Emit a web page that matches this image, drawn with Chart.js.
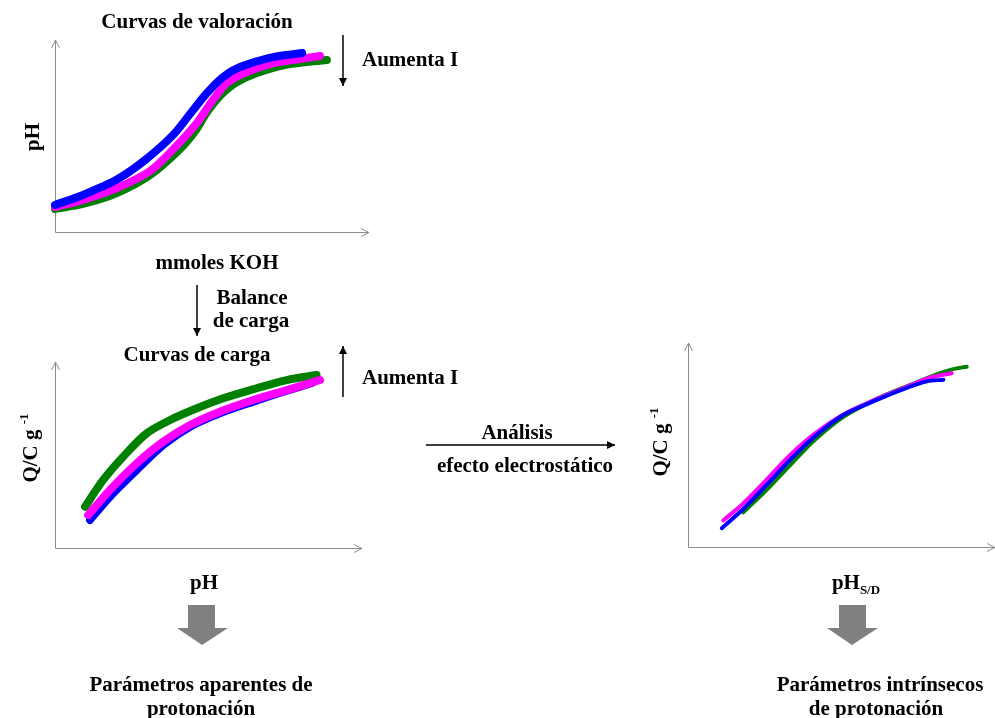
<!DOCTYPE html>
<html lang="es">
<head>
<meta charset="utf-8">
<title>Curvas de valoración y de carga</title>
<script src="https://cdn.jsdelivr.net/npm/chart.js@4.4.1/dist/chart.umd.min.js"></script>
<style>
  html, body { margin: 0; padding: 0; background: #fff; overflow: hidden; }
  #page { position: relative; width: 995px; height: 718px; overflow: hidden; background: #fff;
          font-family: "Liberation Serif", "Times New Roman", serif; font-weight: bold; color: #000; }
  canvas { position: absolute; }
  .t { position: absolute; white-space: nowrap; font-size: 21px; line-height: 21px;
       transform: translate(-50%, -50%); }
  .l { position: absolute; white-space: nowrap; font-size: 21px; line-height: 21px;
       transform: translate(0, -50%); }
  .rot { transform: translate(-50%, -50%) rotate(-90deg); }
  sub { font-size: 13px; vertical-align: -5px; line-height: 0; }
  sup { font-size: 13px; vertical-align: 9px; line-height: 0; }
  svg { position: absolute; left: 0; top: 0; }
</style>
</head>
<body>
<div id="page">
  <canvas id="cTitration" width="334" height="212" style="left:45px; top:30px;"></canvas>
  <canvas id="cCharge" width="327" height="206" style="left:45px; top:352px;"></canvas>
  <canvas id="cIntrinsic" width="327" height="224" style="left:678px; top:333px;"></canvas>

  <svg width="995" height="718" viewBox="0 0 995 718">
    <defs>
      <marker id="head" viewBox="0 0 10 10" refX="10" refY="5" markerWidth="8" markerHeight="8"
              markerUnits="userSpaceOnUse" orient="auto">
        <path d="M0,0 L10,5 L0,10 z" fill="#000"/>
      </marker>
    </defs>
    <!-- ionic strength arrows -->
    <line x1="343" y1="35" x2="343" y2="86" stroke="#000" stroke-width="1.5" marker-end="url(#head)"/>
    <line x1="343" y1="397" x2="343" y2="346" stroke="#000" stroke-width="1.5" marker-end="url(#head)"/>
    <!-- charge balance step -->
    <line x1="197" y1="285" x2="197" y2="336" stroke="#000" stroke-width="1.5" marker-end="url(#head)"/>
    <!-- electrostatic analysis step -->
    <line x1="426" y1="445" x2="615" y2="445" stroke="#000" stroke-width="1.5" marker-end="url(#head)"/>
    <!-- block arrows to the parameters -->
    <path d="M188,605 L215,605 L215,628 L228,628 L202,645 L177,628 L188,628 z" fill="#808080"/>
    <path d="M839,605 L866,605 L866,628 L878,628 L852,645 L827,628 L839,628 z" fill="#808080"/>
  </svg>

  <div class="t" style="left:197px; top:21px;">Curvas de valoración</div>
  <div class="l" style="left:362px; top:59px;">Aumenta I</div>
  <div class="t rot" style="left:32px; top:137px;">pH</div>
  <div class="t" style="left:217px; top:262px;">mmoles KOH</div>

  <div class="t" style="left:252px; top:297px;">Balance</div>
  <div class="t" style="left:251px; top:320px;">de carga</div>

  <div class="t" style="left:197px; top:354px;">Curvas de carga</div>
  <div class="l" style="left:362px; top:377px;">Aumenta I</div>
  <div class="t rot" style="left:30px; top:448px;">Q/C g <sup>-1</sup></div>
  <div class="t" style="left:204px; top:582px;">pH</div>
  <div class="t" style="left:201px; top:684px;">Parámetros aparentes de</div>
  <div class="t" style="left:201px; top:708px;">protonación</div>

  <div class="t" style="left:517px; top:432px;">Análisis</div>
  <div class="t" style="left:525px; top:465px;">efecto electrostático</div>

  <div class="t rot" style="left:660px; top:442px;">Q/C g <sup>-1</sup></div>
  <div class="t" style="left:856px; top:582px;">pH<sub>S/D</sub></div>
  <div class="t" style="left:880px; top:684px;">Parámetros intrínsecos</div>
  <div class="t" style="left:876px; top:708px;">de protonación</div>
</div>

<script>
// ---- Titration curves: pH vs added mmol KOH, three ionic strengths ----
const koh_blue     = [0.000, 0.089, 0.197, 0.287, 0.376, 0.430, 0.484, 0.535, 0.589, 0.694, 0.787];
const ph_blue      = [3.41, 3.93, 4.73, 5.75, 7.05, 8.15, 9.24, 10.07, 10.59, 11.11, 11.32];
const koh_magenta  = [0.000, 0.089, 0.197, 0.303, 0.376, 0.452, 0.503, 0.548, 0.611, 0.694, 0.780, 0.844];
const ph_magenta   = [3.30, 3.67, 4.29, 5.18, 6.30, 7.68, 8.88, 9.76, 10.33, 10.78, 11.01, 11.17];
const koh_green    = [0.000, 0.089, 0.197, 0.303, 0.398, 0.449, 0.478, 0.506, 0.538, 0.580, 0.643, 0.732, 0.866];
const ph_green     = [3.20, 3.46, 4.03, 4.97, 6.32, 7.31, 8.09, 8.72, 9.29, 9.81, 10.28, 10.70, 10.96];

// ---- Charge curves: Q vs pH ----
const chg_ph_blue     = [3.14, 3.79, 4.66, 5.53, 6.40, 7.37, 8.46, 9.44, 10.37];
const chg_q_blue      = [15.1, 27.6, 41.9, 55.4, 65.2, 72.4, 78.7, 84.0, 88.7];
const chg_ph_magenta  = [3.08, 3.79, 4.66, 5.53, 6.40, 7.37, 8.46, 9.55, 10.63];
const chg_q_magenta   = [17.7, 31.2, 45.5, 57.2, 66.1, 73.3, 79.6, 84.9, 90.3];
const chg_ph_green    = [2.98, 3.57, 4.22, 4.99, 5.75, 6.62, 7.48, 8.57, 9.55, 10.52];
const chg_q_green     = [22.2, 36.6, 49.1, 61.7, 68.8, 75.1, 80.5, 85.9, 90.3, 93.0];

// ---- Master curves: Q vs pH at the surface (pH S/D) ----
const sd_ph_blue     = [3.10, 3.80, 4.56, 5.32, 6.08, 7.06, 8.15, 9.23, 9.78, 10.32];
const sd_q_blue      = [9.2, 18.6, 30.4, 42.6, 53.6, 64.7, 72.1, 78.6, 81.2, 82.0];
const sd_ph_magenta  = [3.15, 3.80, 4.56, 5.32, 6.08, 7.06, 8.15, 9.23, 9.88, 10.59];
const sd_q_magenta   = [13.0, 21.4, 33.0, 45.0, 55.0, 65.0, 72.6, 79.2, 83.0, 85.2];
const sd_ph_green    = [3.80, 4.56, 5.32, 6.08, 7.06, 8.15, 9.23, 10.10, 10.64, 11.08];
const sd_q_green     = [17.0, 28.0, 40.0, 51.8, 63.8, 72.6, 79.4, 84.6, 87.2, 88.4];

const BLUE = '#0000ff', MAGENTA = '#ff00ff', GREEN = '#008000';

function pts(xs, ys) { return xs.map((x, i) => ({ x: x, y: ys[i] })); }

function series(xs, ys, color, width) {
  return {
    data: pts(xs, ys),
    borderColor: color,
    backgroundColor: color,
    borderWidth: width,
    borderCapStyle: 'round',
    borderJoinStyle: 'round',
    showLine: true,
    pointRadius: 0,
    tension: 0.3,
    clip: false
  };
}

// Bare axes with open arrowheads at their ends
const arrowAxes = {
  id: 'arrowAxes',
  beforeDatasetsDraw(chart) {
    const { ctx, chartArea: a } = chart;
    ctx.save();
    ctx.strokeStyle = '#8c8c8c';
    ctx.lineWidth = 1;
    ctx.beginPath();
    ctx.moveTo(a.left + 0.5, a.bottom + 0.5);
    ctx.lineTo(a.left + 0.5, a.top);
    ctx.moveTo(a.left + 0.5, a.bottom + 0.5);
    ctx.lineTo(a.right, a.bottom + 0.5);
    // heads
    ctx.moveTo(a.left - 3.5, a.top + 8);
    ctx.lineTo(a.left + 0.5, a.top);
    ctx.lineTo(a.left + 4.5, a.top + 8);
    ctx.moveTo(a.right - 8, a.bottom - 3.5);
    ctx.lineTo(a.right, a.bottom + 0.5);
    ctx.lineTo(a.right - 8, a.bottom + 4.5);
    ctx.stroke();
    ctx.restore();
  }
};

function makeChart(id, datasets, xr, yr) {
  return new Chart(document.getElementById(id), {
    type: 'scatter',
    data: { datasets: datasets },
    options: {
      responsive: false,
      animation: false,
      devicePixelRatio: 1,
      layout: { padding: 10 },
      plugins: { legend: { display: false }, tooltip: { enabled: false } },
      scales: {
        x: { type: 'linear', min: xr[0], max: xr[1], display: false },
        y: { type: 'linear', min: yr[0], max: yr[1], display: false }
      }
    },
    plugins: [arrowAxes]
  });
}

makeChart('cTitration', [
  series(koh_blue, ph_blue, BLUE, 8),
  series(koh_magenta, ph_magenta, MAGENTA, 8),
  series(koh_green, ph_green, GREEN, 8)
], [0, 1], [2, 12]);

makeChart('cCharge', [
  series(chg_ph_magenta, chg_q_magenta, MAGENTA, 8),
  series(chg_ph_blue, chg_q_blue, BLUE, 8),
  series(chg_ph_green, chg_q_green, GREEN, 8)
], [2, 12], [0, 100]);

makeChart('cIntrinsic', [
  series(sd_ph_blue, sd_q_blue, BLUE, 4),
  series(sd_ph_magenta, sd_q_magenta, MAGENTA, 4),
  series(sd_ph_green, sd_q_green, GREEN, 4)
], [2, 12], [0, 100]);
</script>
</body>
</html>
